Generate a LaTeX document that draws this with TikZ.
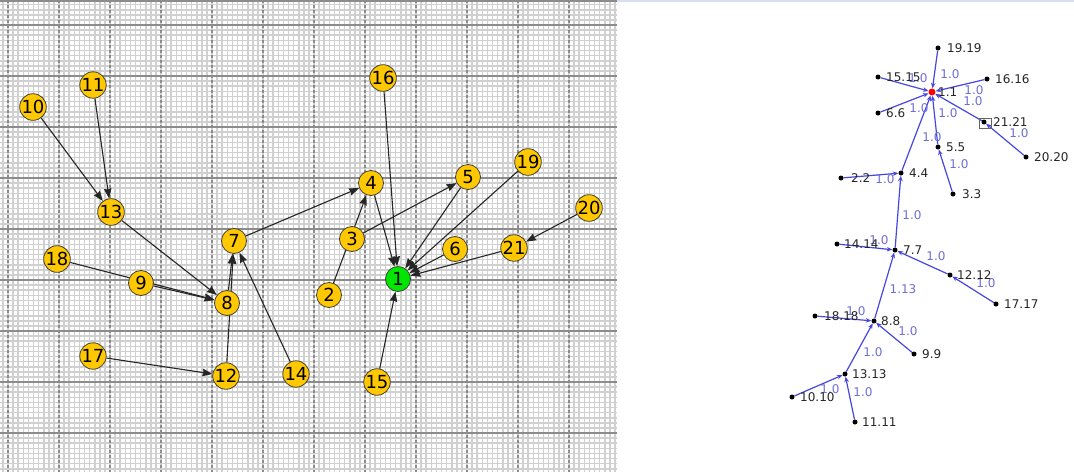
\documentclass[tikz,border=0pt]{standalone}
\usepackage{fontspec}
\usetikzlibrary{arrows.meta}
\newfontfamily\gfont{DejaVu Sans}
\pgfdeclarelayer{gridlayer}
\pgfdeclarelayer{edgelayer}
\pgfsetlayers{gridlayer,edgelayer,main}
\definecolor{gold}{RGB}{255,200,0}
\definecolor{rootgreen}{RGB}{0,230,0}
\definecolor{minorgray}{RGB}{208,208,208}
\definecolor{majorgray}{RGB}{140,140,140}
\definecolor{treeblue}{RGB}{70,70,225}
\definecolor{labelblue}{RGB}{110,110,215}
\definecolor{topblue}{RGB}{215,222,240}
\begin{document}
\begin{tikzpicture}[x=1pt,y=-1pt,
  gnode/.style={circle,draw=black!75,line width=0.8pt,fill=gold,minimum size=25pt,inner sep=0pt,font=\gfont\fontsize{18}{18}\selectfont},
  rootnode/.style={gnode,fill=rootgreen},
  garrow/.style={draw=black!85,line width=1.1pt,-{Stealth[length=10pt,width=7.5pt,inset=1pt]}},
  tdot/.style={circle,fill=black,minimum size=5pt,inner sep=0pt},
  troot/.style={circle,fill=red,minimum size=7pt,inner sep=0pt},
  tlabel/.style={anchor=west,inner sep=0pt,font=\gfont\fontsize{12}{12}\selectfont,text=black!85},
  elabel/.style={inner sep=0pt,font=\gfont\fontsize{12}{12}\selectfont,text=labelblue},
  tedge/.style={draw=treeblue,line width=1.2pt,-{Stealth[length=5.5pt,width=4.5pt]}},
  minorline/.style={draw=minorgray,line width=1.6pt},
  majorh/.style={draw=majorgray,line width=1.3pt},
  majorv/.style={draw=majorgray,line width=1.3pt,dash pattern=on 3pt off 2pt},
]
\useasboundingbox (0,0) rectangle (1074,472);

% ---------- grid panel ----------
\begin{pgfonlayer}{gridlayer}
  \fill[white] (0,0) rectangle (1074,472);
  \begin{scope}
    \clip (0,0) rectangle (617,472);
    \foreach \i in {-1,...,119} \draw[minorline] ({8+5.1*\i},0) -- ({8+5.1*\i},472);
    \foreach \i in {-5,...,88} \draw[minorline] (0,{25+5.1*\i}) -- (617,{25+5.1*\i});
    \foreach \k in {0,...,11} \draw[majorv] ({8+51*\k},0) -- ({8+51*\k},472);
    \foreach \k in {0,...,8} \draw[majorh] (0,{25+51*\k}) -- (617,{25+51*\k});
    \draw[majorgray,line width=1.5pt] (0,0.75) -- (617,0.75);
  \end{scope}
  \draw[topblue,line width=2pt] (617,1) -- (1074,1);
\end{pgfonlayer}

% ---------- left graph nodes ----------
\node[rootnode] (n1) at (398,279) {1};
\node[gnode] (n2) at (329,295) {2};
\node[gnode] (n3) at (352,239) {3};
\node[gnode] (n4) at (371,183) {4};
\node[gnode] (n5) at (468,177) {5};
\node[gnode] (n6) at (455,249) {6};
\node[gnode] (n7) at (234,241) {7};
\node[gnode] (n8) at (227,303) {8};
\node[gnode] (n9) at (141,283) {9};
\node[gnode] (n10) at (33,107) {10};
\node[gnode] (n11) at (93,85) {11};
\node[gnode] (n12) at (226,376) {12};
\node[gnode] (n13) at (111,212) {13};
\node[gnode] (n14) at (296,374) {14};
\node[gnode] (n15) at (377,382) {15};
\node[gnode] (n16) at (383,78) {16};
\node[gnode] (n17) at (93,356) {17};
\node[gnode] (n18) at (57,259) {18};
\node[gnode] (n19) at (528,162) {19};
\node[gnode] (n20) at (589,208) {20};
\node[gnode] (n21) at (514,248) {21};

% ---------- right tree dots ----------
\node[troot] (t1) at (932,92) {};
\node[tdot] (t2) at (841,178) {};
\node[tdot] (t3) at (953,194) {};
\node[tdot] (t4) at (901,173) {};
\node[tdot] (t5) at (938,147) {};
\node[tdot] (t6) at (878,113) {};
\node[tdot] (t7) at (895,250) {};
\node[tdot] (t8) at (874,321) {};
\node[tdot] (t9) at (914,354) {};
\node[tdot] (t10) at (792,397) {};
\node[tdot] (t11) at (855,422) {};
\node[tdot] (t12) at (950,275) {};
\node[tdot] (t13) at (845,374) {};
\node[tdot] (t14) at (837,244) {};
\node[tdot] (t15) at (878,77) {};
\node[tdot] (t16) at (987,79) {};
\node[tdot] (t17) at (996,304) {};
\node[tdot] (t18) at (815,316) {};
\node[tdot] (t19) at (938,48) {};
\node[tdot] (t20) at (1026,157) {};
\node[tdot] (t21) at (984,122) {};
\node[draw=black!60,line width=0.6pt,minimum width=12pt,minimum height=10pt,inner sep=0pt] (box21) at (985,123) {};

% ---------- edges ----------
\begin{pgfonlayer}{edgelayer}
  \draw[garrow] (n10) -- (n13);
  \draw[garrow] (n11) -- (n13);
  \draw[garrow] (n13) -- (n8);
  \draw[garrow] (n18) -- (n8);
  \draw[garrow] (n9) -- (n8);
  \draw[garrow] (n8) -- (n7);
  \draw[garrow] (n12) -- (n7);
  \draw[garrow] (n17) -- (n12);
  \draw[garrow] (n14) -- (n7);
  \draw[garrow] (n7) -- (n4);
  \draw[garrow] (n2) -- (n4);
  \draw[garrow] (n3) -- (n5);
  \draw[garrow] (n4) -- (n1);
  \draw[garrow] (n5) -- (n1);
  \draw[garrow] (n16) -- (n1);
  \draw[garrow] (n19) -- (n1);
  \draw[garrow] (n6) -- (n1);
  \draw[garrow] (n21) -- (n1);
  \draw[garrow] (n20) -- (n21);
  \draw[garrow] (n15) -- (n1);
  % tree
  \draw[tedge] (t19) -- (t1);
  \draw[tedge] (t15) -- (t1);
  \draw[tedge] (t16) -- (t1);
  \draw[tedge] (t6) -- (t1);
  \draw[tedge] (t21) -- (t1);
  \draw[tedge] (t5) -- (t1);
  \draw[tedge] (t4) -- (t1);
  \draw[tedge] (t20) -- (t21);
  \draw[tedge] (t3) -- (t5);
  \draw[tedge] (t2) -- (t4);
  \draw[tedge] (t7) -- (t4);
  \draw[tedge] (t14) -- (t7);
  \draw[tedge] (t12) -- (t7);
  \draw[tedge] (t17) -- (t12);
  \draw[tedge] (t8) -- (t7);
  \draw[tedge] (t18) -- (t8);
  \draw[tedge] (t9) -- (t8);
  \draw[tedge] (t13) -- (t8);
  \draw[tedge] (t10) -- (t13);
  \draw[tedge] (t11) -- (t13);
\end{pgfonlayer}

% ---------- edge weight labels ----------
\node[elabel] (w19) at (950,74) {1.0};
\node[elabel] (w15) at (918,78) {1.0};
\node[elabel] (w16) at (974,90) {1.0};
\node[elabel] (w21) at (973,101) {1.0};
\node[elabel] (w6) at (919,108) {1.0};
\node[elabel] (w5) at (948,113) {1.0};
\node[elabel] (w4) at (932,137) {1.0};
\node[elabel] (w20) at (1019,133) {1.0};
\node[elabel] (w3) at (959,164) {1.0};
\node[elabel] (w2) at (885,179) {1.0};
\node[elabel] (w7) at (912,215) {1.0};
\node[elabel] (w14) at (879,240) {1.0};
\node[elabel] (w12) at (936,256) {1.0};
\node[elabel] (w17) at (986,283) {1.0};
\node[elabel] (w8) at (903,289) {1.13};
\node[elabel] (w18) at (856,311) {1.0};
\node[elabel] (w9) at (908,331) {1.0};
\node[elabel] (w13) at (873,352) {1.0};
\node[elabel] (w10) at (830,389) {1.0};
\node[elabel] (w11) at (863,392) {1.0};

% ---------- tree node labels ----------
\node[tlabel] (l19) at (947,48) {19.19};
\node[tlabel] (l15) at (886,77) {15.15};
\node[tlabel] (l1) at (938,92) {1.1};
\node[tlabel] (l16) at (995,79) {16.16};
\node[tlabel] (l6) at (886,113) {6.6};
\node[tlabel] (l21) at (993,122) {21.21};
\node[tlabel] (l5) at (946,147) {5.5};
\node[tlabel] (l20) at (1034,157) {20.20};
\node[tlabel] (l4) at (909,173) {4.4};
\node[tlabel] (l2) at (851,178) {2.2};
\node[tlabel] (l3) at (962,194) {3.3};
\node[tlabel] (l14) at (844,244) {14.14};
\node[tlabel] (l7) at (903,250) {7.7};
\node[tlabel] (l12) at (957,275) {12.12};
\node[tlabel] (l17) at (1004,304) {17.17};
\node[tlabel] (l18) at (824,316) {18.18};
\node[tlabel] (l8) at (881,321) {8.8};
\node[tlabel] (l9) at (922,354) {9.9};
\node[tlabel] (l13) at (852,374) {13.13};
\node[tlabel] (l10) at (800,397) {10.10};
\node[tlabel] (l11) at (862,422) {11.11};
\end{tikzpicture}
\end{document}
